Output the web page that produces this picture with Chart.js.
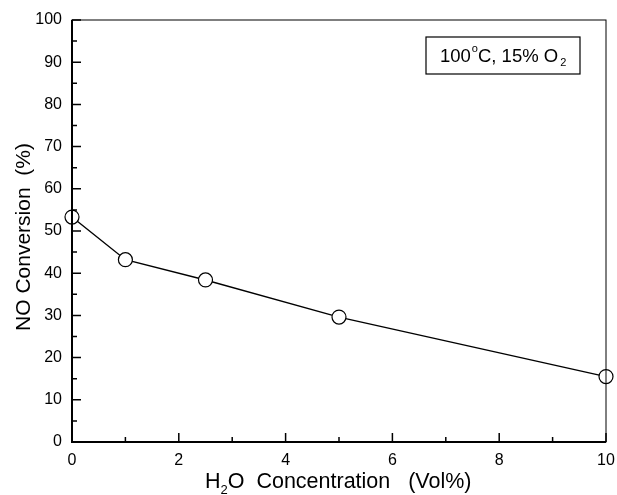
<!DOCTYPE html>
<html lang="en">
<head>
    <meta charset="UTF-8">
    <title>NO Conversion vs H2O</title>
    <script src="https://cdn.jsdelivr.net/npm/chart.js"></script>
    <style>
        html, body { margin: 0; padding: 0; background: #fff; }
        #wrap { width: 617px; height: 495px; }
    </style>
</head>
<body>
    <div id="wrap"><canvas id="myChart" width="617" height="495"></canvas></div>

    <script>
        // data
        const h2oConc = [0, 1, 2.5, 5, 10];
        const noConversion = [53.3, 43.2, 38.4, 29.6, 15.5];
        const xTicks = [0, 2, 4, 6, 8, 10];
        const yTicks = [0, 10, 20, 30, 40, 50, 60, 70, 80, 90, 100];

        const FONT = 'Liberation Sans, Arial, sans-serif';

        // frame, inward ticks, axis titles and the label box
        const decorations = {
            id: 'decorations',
            afterDraw(chart) {
                const ctx = chart.ctx;
                const a = chart.chartArea;
                const xs = chart.scales.x;
                const ys = chart.scales.y;
                ctx.save();
                ctx.strokeStyle = '#000';

                // frame
                ctx.lineWidth = 1;
                ctx.strokeRect(a.left, a.top, a.right - a.left, a.bottom - a.top);
                ctx.lineWidth = 2;
                ctx.beginPath();
                ctx.moveTo(a.left, a.top); ctx.lineTo(a.left, a.bottom); ctx.lineTo(a.right, a.bottom);
                ctx.stroke();

                // y ticks (major every 10, minor every 5)
                ctx.lineWidth = 1.5;
                ctx.beginPath();
                for (let v = 0; v <= 100; v += 5) {
                    const y = ys.getPixelForValue(v);
                    const len = v % 10 === 0 ? 9 : 5;
                    ctx.moveTo(a.left, y); ctx.lineTo(a.left + len, y);
                }
                // x ticks (major every 2, minor every 1)
                for (let v = 0; v <= 10; v += 1) {
                    const x = xs.getPixelForValue(v);
                    const len = v % 2 === 0 ? 9 : 5;
                    ctx.moveTo(x, a.bottom); ctx.lineTo(x, a.bottom - len);
                }
                ctx.stroke();

                ctx.fillStyle = '#000';

                // y title
                ctx.save();
                ctx.translate(24, 237);
                ctx.rotate(-Math.PI / 2);
                ctx.font = '21px ' + FONT;
                ctx.textAlign = 'center';
                ctx.textBaseline = 'middle';
                ctx.fillText('NO Conversion  (%)', 0, 0);
                ctx.restore();

                // x title with subscript
                ctx.font = '21.5px ' + FONT;
                ctx.textBaseline = 'alphabetic';
                ctx.textAlign = 'left';
                let x0 = 205;
                const yb = 488;
                ctx.fillText('H', x0, yb);
                x0 += ctx.measureText('H').width;
                ctx.font = '13px ' + FONT;
                ctx.fillText('2', x0, yb + 6);
                x0 += ctx.measureText('2').width;
                ctx.font = '21.5px ' + FONT;
                ctx.fillText('O  Concentration   (Vol%)', x0, yb);

                // label box
                ctx.lineWidth = 1.2;
                ctx.strokeRect(426, 37, 154, 37);
                ctx.font = '18.5px ' + FONT;
                let tx = 440;
                const tb = 62;
                ctx.fillText('100', tx, tb);
                tx += ctx.measureText('100').width;
                ctx.font = '11px ' + FONT;
                ctx.fillText('o', tx + 1, tb - 10);
                tx += ctx.measureText('o').width + 1;
                ctx.font = '18.5px ' + FONT;
                ctx.fillText('C, 15% O', tx, tb);
                tx += ctx.measureText('C, 15% O').width;
                ctx.font = '11px ' + FONT;
                ctx.fillText('2', tx + 2, tb + 4);

                ctx.restore();
            }
        };

        const ctx = document.getElementById('myChart').getContext('2d');
        const myChart = new Chart(ctx, {
            type: 'line',
            data: {
                datasets: [{
                    label: 'NO Conversion',
                    data: h2oConc.map((x, i) => ({ x: x, y: noConversion[i] })),
                    borderColor: '#000',
                    borderWidth: 1.4,
                    backgroundColor: '#fff',
                    pointBackgroundColor: '#fff',
                    pointBorderColor: '#000',
                    pointBorderWidth: 1.2,
                    pointRadius: 7,
                    tension: 0,
                    clip: false
                }]
            },
            options: {
                responsive: false,
                animation: false,
                layout: { padding: { left: 0, right: 11, top: 20, bottom: 0 } },
                plugins: {
                    legend: { display: false },
                    tooltip: { enabled: false }
                },
                scales: {
                    x: {
                        type: 'linear',
                        min: 0,
                        max: 10,
                        afterBuildTicks: s => { s.ticks = xTicks.map(v => ({ value: v })); },
                        afterFit: s => { s.height = 53; s.paddingRight = 0; s.paddingLeft = 0; },
                        grid: { display: false, drawTicks: false },
                        border: { display: false },
                        ticks: { color: '#000', font: { family: FONT, size: 16 }, padding: 9, maxRotation: 0 }
                    },
                    y: {
                        min: 0,
                        max: 100,
                        afterBuildTicks: s => { s.ticks = yTicks.map(v => ({ value: v })); },
                        afterFit: s => { s.width = 72; s.paddingTop = 0; s.paddingBottom = 0; },
                        grid: { display: false, drawTicks: false },
                        border: { display: false },
                        ticks: { color: '#000', font: { family: FONT, size: 16 }, padding: 10 }
                    }
                }
            },
            plugins: [decorations]
        });
    </script>
</body>
</html>
